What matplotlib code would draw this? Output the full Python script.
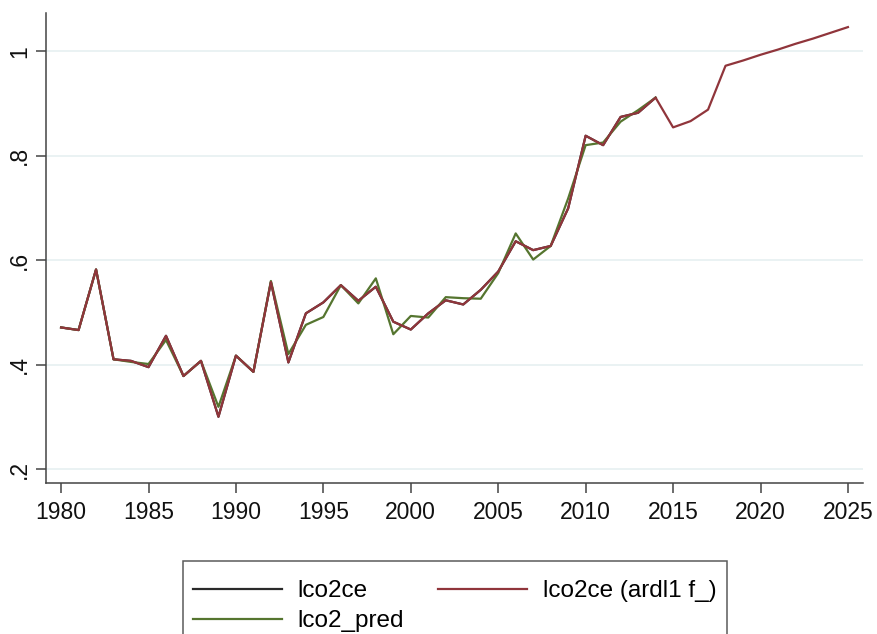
"""Stata-style line plot: lco2ce, its ARDL(1) forecast and the fitted lco2_pred."""
import matplotlib
matplotlib.use("Agg")
import matplotlib.pyplot as plt

plt.rcParams['font.family'] = ['Liberation Sans', 'DejaVu Sans']

years_obs = list(range(1980, 2015))
years_fc = list(range(1980, 2026))

lco2ce = [0.471, 0.466, 0.582, 0.410, 0.407, 0.395, 0.455, 0.378, 0.407, 0.300,
          0.417, 0.386, 0.558, 0.404, 0.498, 0.519, 0.552, 0.522, 0.549, 0.482,
          0.467, 0.498, 0.523, 0.515, 0.543, 0.578, 0.636, 0.619, 0.627, 0.699,
          0.838, 0.820, 0.874, 0.882, 0.911]

lco2ce_fc = lco2ce + [0.854, 0.866, 0.888, 0.972, 0.982, 0.993, 1.003, 1.014,
                      1.024, 1.035, 1.046]

lco2_pred = [0.471, 0.466, 0.582, 0.410, 0.405, 0.401, 0.447, 0.378, 0.407, 0.319,
             0.417, 0.386, 0.560, 0.420, 0.476, 0.491, 0.552, 0.517, 0.565, 0.458,
             0.493, 0.490, 0.529, 0.527, 0.526, 0.575, 0.651, 0.601, 0.627, 0.718,
             0.820, 0.825, 0.865, 0.887, 0.911]

yticks = [0.2, 0.4, 0.6, 0.8, 1.0]
ytick_labels = ['.2', '.4', '.6', '.8', '1']
xticks = list(range(1980, 2030, 5))

fig = plt.figure(figsize=(8.77, 6.34), dpi=100)
ax = fig.add_axes([0.0525, 0.238, 0.9315, 0.7415])

l_obs, = ax.plot(years_obs, lco2ce, color='#2a2a2a', lw=1.6, label='lco2ce')
l_pred, = ax.plot(years_obs, lco2_pred, color='#55752f', lw=1.6, label='lco2_pred')
l_fc, = ax.plot(years_fc, lco2ce_fc, color='#90353b', lw=1.6, label='lco2ce (ardl1 f_)')

ax.set_xlim(1979.14, 2025.86)
ax.set_ylim(0.173, 1.073)
ax.set_xticks(xticks)
ax.set_yticks(yticks)
ax.set_yticklabels(ytick_labels, rotation=90, va='center')
ax.grid(True, axis='y', color='#eaf2f3', lw=1.4)
ax.set_axisbelow(True)
for side in ('top', 'right'):
    ax.spines[side].set_visible(False)
for side in ('left', 'bottom'):
    ax.spines[side].set_color('#444444')
    ax.spines[side].set_linewidth(1.1)
ax.tick_params(axis='both', direction='out', length=7, width=1.1,
               color='#444444', labelsize=16.5, labelcolor='#111111')
ax.tick_params(axis='y', pad=4)
ax.tick_params(axis='x', pad=6)

# tiny blank title just to push the rows down inside the frame (Stata-like top margin)
leg = fig.legend(handles=[l_obs, l_pred, l_fc], ncol=2,
                 loc='upper left', bbox_to_anchor=(183 / 877, 1 - 561 / 634),
                 fontsize=17.5, frameon=True, fancybox=False, borderaxespad=0,
                 handlelength=3.64, handletextpad=0.64, columnspacing=1.42,
                 labelspacing=0.32, borderpad=0.43,
                 title=' ', title_fontsize=1)
leg.get_frame().set_edgecolor('#333333')
leg.get_frame().set_linewidth(1.1)

fig.savefig('out.png', dpi=100)
